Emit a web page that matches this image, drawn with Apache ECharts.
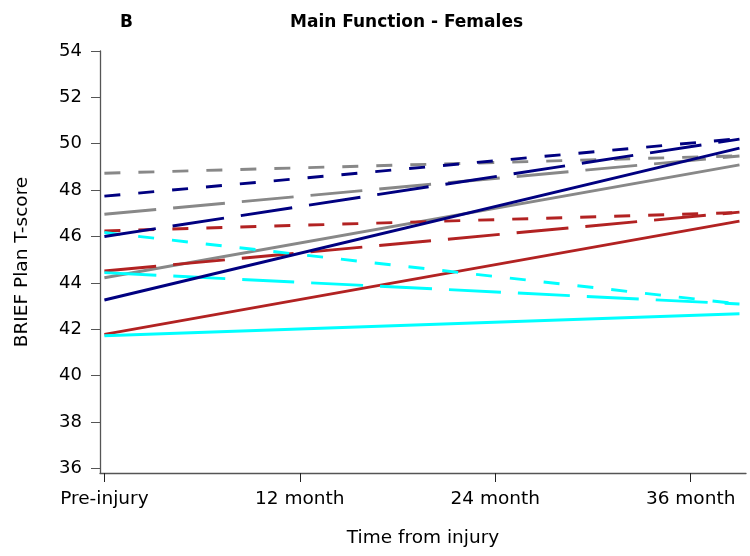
<!DOCTYPE html>
<html>
<head>
<meta charset="utf-8">
<script src="https://cdn.jsdelivr.net/npm/echarts@6/dist/echarts.min.js"></script>
<style>
  html, body { margin: 0; padding: 0; background: #fff; }
  #chart { width: 750px; height: 556px; }
</style>
</head>
<body>
<div id="chart"></div>
<script>
// x positions (months from injury) of the fitted line end points
const times = [0, 39];
// axis ticks
const xTickValues = [0, 12, 24, 36];
const xTickLabels = ['Pre-injury', '12 month', '24 month', '36 month'];
const yTickValues = [36, 38, 40, 42, 44, 46, 48, 50, 52, 54];

// series values at [start, end]
const graySolid = [44.22, 49.09];
const grayLong  = [46.96, 49.47];
const grayShort = [48.73, 49.48];
const navySolid = [43.26, 49.81];
const navyLong  = [46.00, 50.20];
const navyShort = [47.74, 50.22];
const redSolid  = [41.78, 46.66];
const redLong   = [44.51, 47.05];
const redShort  = [46.24, 47.03];
const cyanSolid = [41.72, 42.67];
const cyanLong  = [44.44, 43.09];
const cyanShort = [46.17, 43.09];

const GRAY = '#888888', NAVY = '#000080', RED = '#B22222', CYAN = '#00FFFF';
const SOLID = 'solid', LONG = [52, 17], SHORT = [16, 18];

const seriesDefs = [
  ['gray solid', graySolid, GRAY, SOLID],
  ['gray long', grayLong, GRAY, LONG],
  ['gray short', grayShort, GRAY, SHORT],
  ['red solid', redSolid, RED, SOLID],
  ['red long', redLong, RED, LONG],
  ['red short', redShort, RED, SHORT],
  ['cyan solid', cyanSolid, CYAN, SOLID],
  ['cyan long', cyanLong, CYAN, LONG],
  ['cyan short', cyanShort, CYAN, SHORT],
  ['navy solid', navySolid, NAVY, SOLID],
  ['navy long', navyLong, NAVY, LONG],
  ['navy short', navyShort, NAVY, SHORT]
];

const FONT = 'DejaVu Sans';
const AXIS_COLOR = '#555555';

const chart = echarts.init(document.getElementById('chart'), null, { renderer: 'canvas' });
chart.setOption({
  animation: false,
  backgroundColor: '#ffffff',
  title: [
    { text: 'B', left: 115, top: 9,
      textStyle: { fontFamily: FONT, fontWeight: 'bold', fontSize: 17, color: '#000' } },
    { text: 'Main Function - Females', left: 285, top: 9,
      textStyle: { fontFamily: FONT, fontWeight: 'bold', fontSize: 17, color: '#000' } }
  ],
  grid: { left: 100, right: 4, top: 51, bottom: 83, containLabel: false },
  xAxis: {
    type: 'value',
    min: -0.27,
    max: 39.4,
    name: 'Time from injury',
    nameLocation: 'middle',
    nameGap: 56,
    nameTextStyle: { fontFamily: FONT, fontSize: 18.5, color: '#000' },
    axisLine: { show: true, onZero: false, lineStyle: { color: AXIS_COLOR, width: 1.3 } },
    axisTick: { show: true, inside: false, length: 9, customValues: xTickValues,
      lineStyle: { color: '#222', width: 1 } },
    axisLabel: {
      customValues: xTickValues,
      margin: 17,
      fontFamily: FONT, fontSize: 18.5, color: '#000',
      formatter: function (v) {
        const i = xTickValues.indexOf(v);
        return i >= 0 ? xTickLabels[i] : '';
      }
    },
    splitLine: { show: false }
  },
  yAxis: {
    type: 'value',
    min: 35.8,
    max: 54,
    name: 'BRIEF Plan T-score',
    nameLocation: 'middle',
    nameGap: 68,
    nameTextStyle: { fontFamily: FONT, fontSize: 18.5, color: '#000' },
    axisLine: { show: true, onZero: false, lineStyle: { color: AXIS_COLOR, width: 1.3 } },
    axisTick: { show: true, inside: false, length: 9, customValues: yTickValues,
      lineStyle: { color: AXIS_COLOR, width: 1 } },
    axisLabel: {
      customValues: yTickValues,
      margin: 18,
      fontFamily: FONT, fontSize: 18, color: '#000'
    },
    splitLine: { show: false }
  },
  series: seriesDefs.map(function (d) {
    return {
      name: d[0],
      type: 'line',
      data: times.map(function (t, i) { return [t, d[1][i]]; }),
      symbol: 'none',
      lineStyle: { color: d[2], width: 2.9, type: d[3], cap: 'butt' },
      silent: true
    };
  })
});
</script>
</body>
</html>
